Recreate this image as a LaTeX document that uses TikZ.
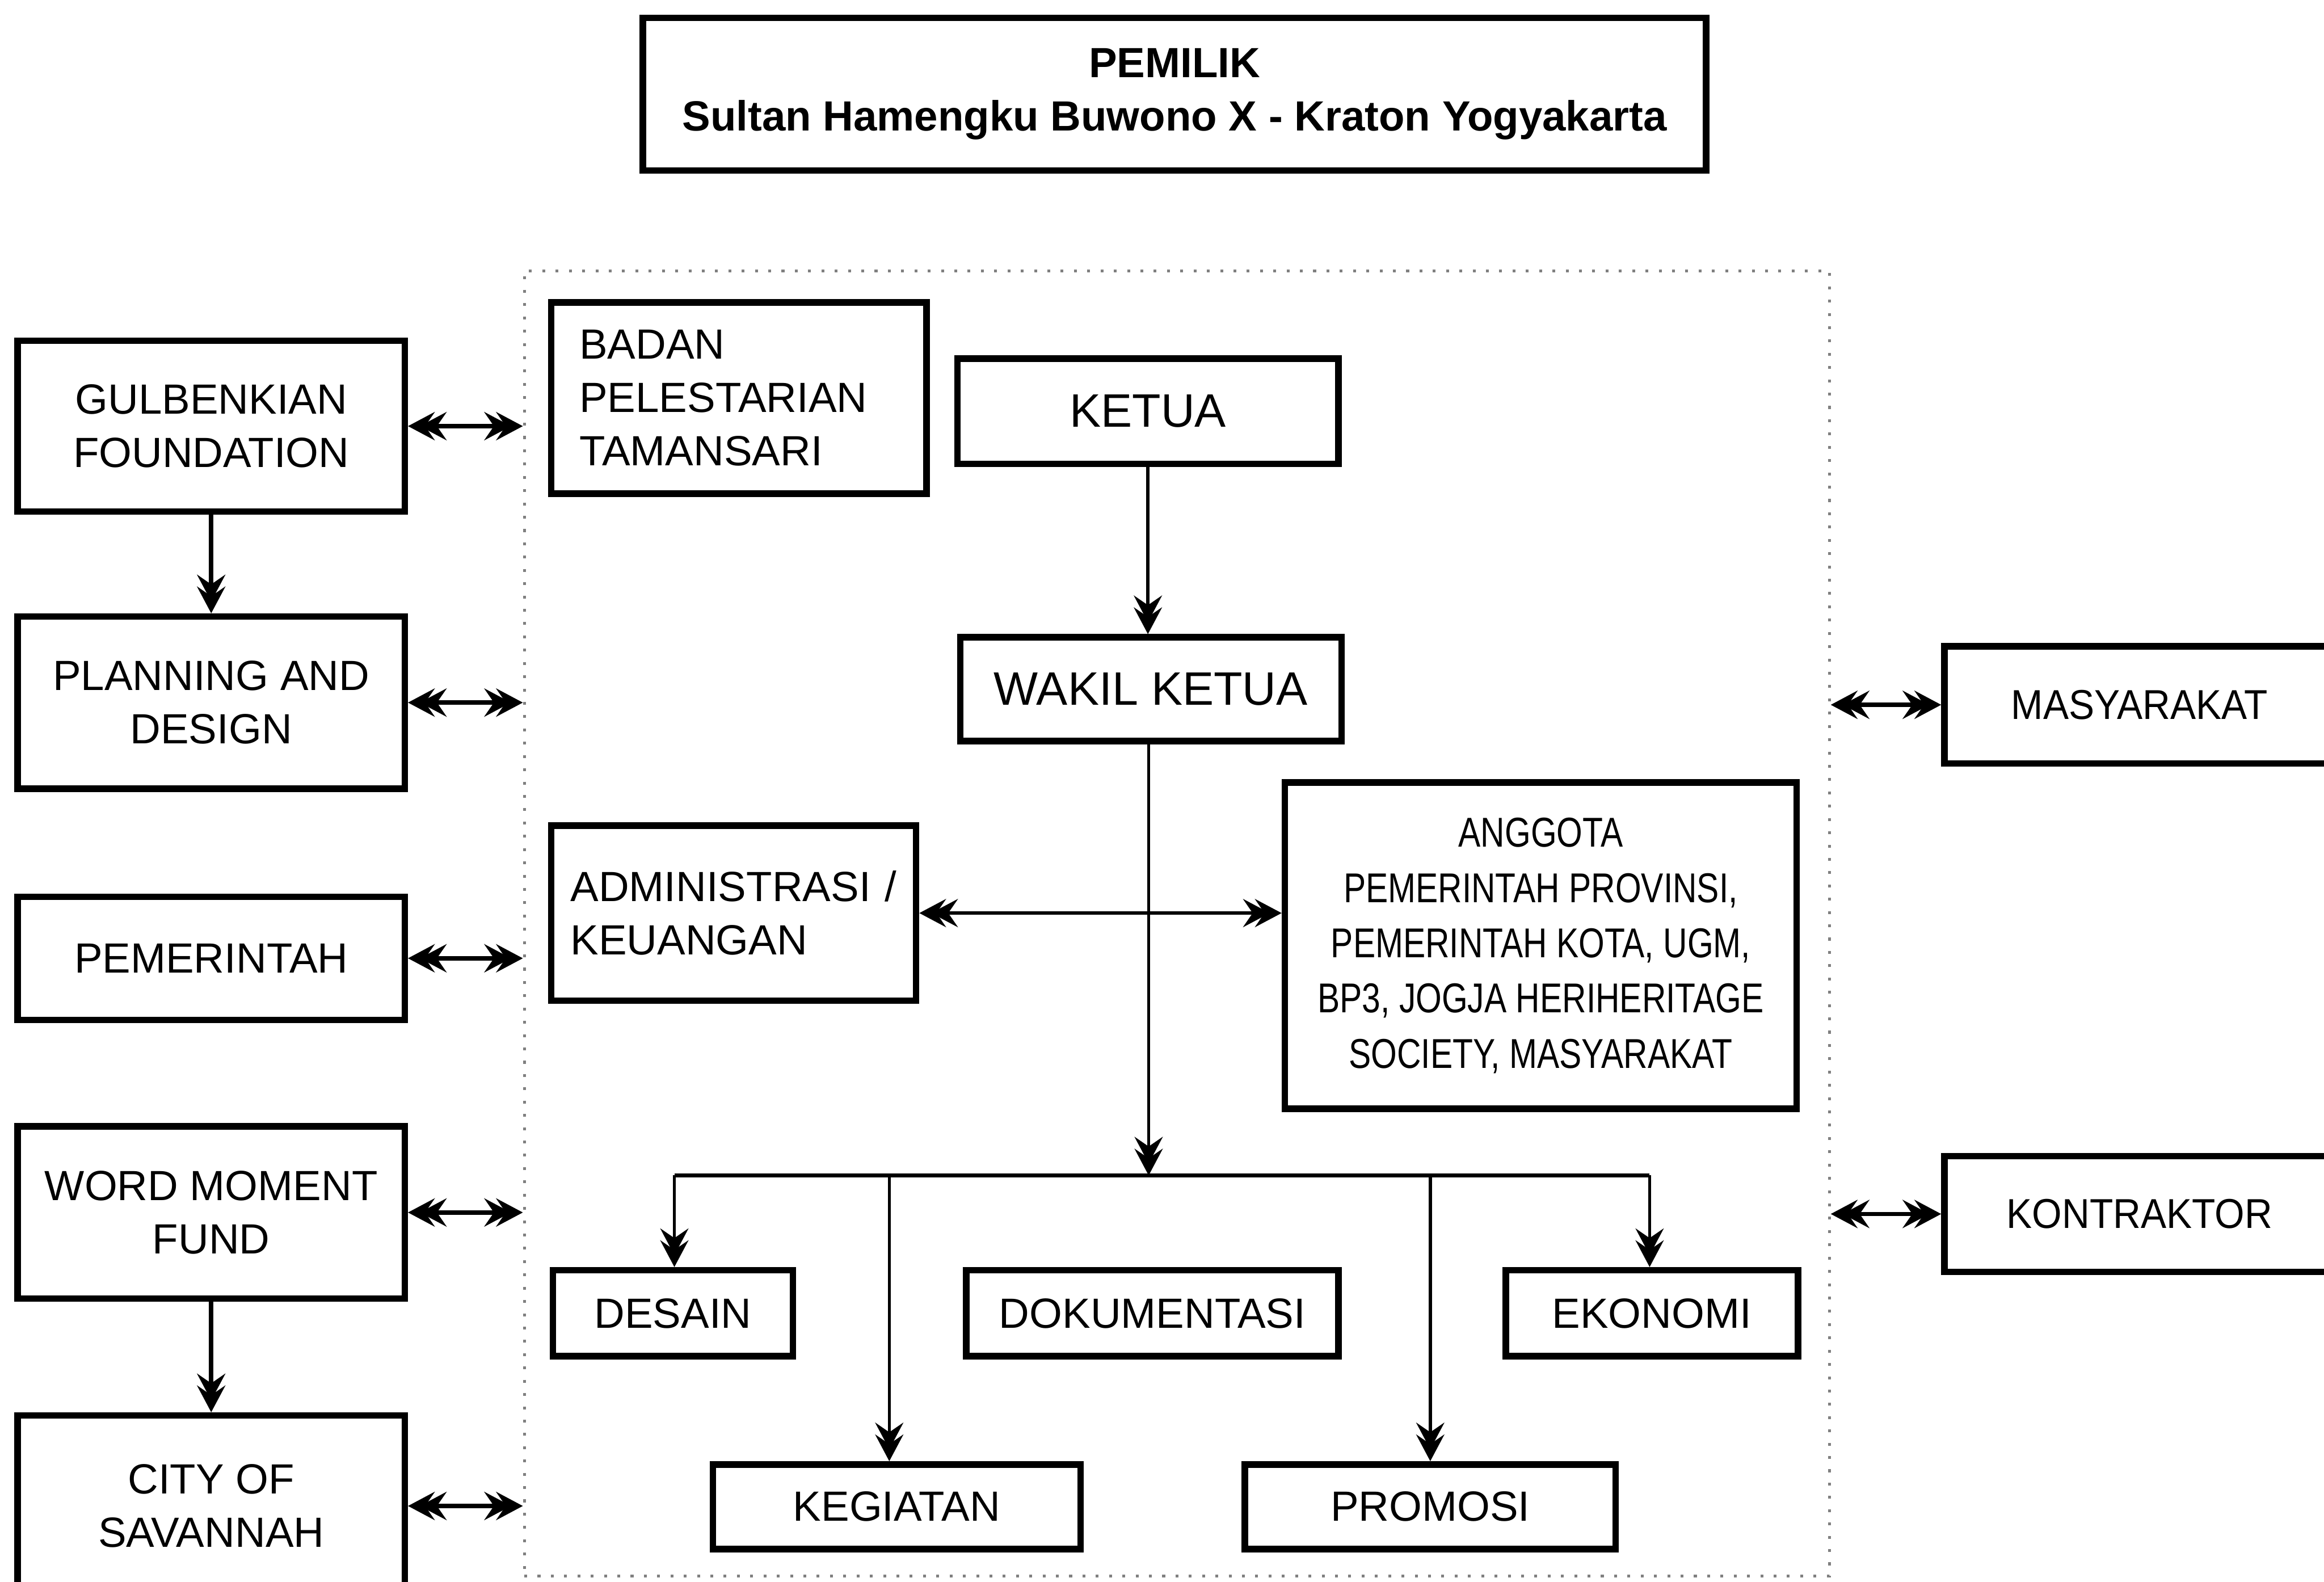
\documentclass[tikz,border=0pt]{standalone}
\usepackage{fontspec}
\setmainfont{Liberation Sans}
\newfontfamily\narrowfont[FakeStretch=0.8]{Liberation Sans}
\newfontfamily\semifont[FakeStretch=0.92]{Liberation Sans}
\usetikzlibrary{arrows.meta,calc}
\tikzset{
  dbl/.tip={Stealth[length=1.8mm,width=1.9mm,inset=0.65mm,sep=-1.0mm]Stealth[length=1.8mm,width=1.9mm,inset=0.65mm]},
  box/.style={draw, line width=1.25pt, inner sep=0pt, align=center, font=\fontsize{8.1}{10.2}\selectfont},
  bigbox/.style={box, font=\fontsize{9}{11}\selectfont},
  conn/.style={line width=0.85pt},
  thinconn/.style={line width=0.6pt},
  frame/.style={draw=black!50, dotted, line width=0.55pt, inner sep=0pt}
}
\begin{document}
\begin{tikzpicture}[x=0.01cm,y=-0.01cm]
\useasboundingbox (0,0) rectangle (1568,1067);
\fill[white] (0,0) rectangle (1568,1067);

% owner
\node[box, minimum width=7.17cm, minimum height=1.03cm, font=\bfseries\fontsize{8.1}{10.2}\selectfont] (pemilik) at (792.5,63.5)
  {PEMILIK\\Sultan Hamengku Buwono X - Kraton Yogyakarta};

% dotted frame
\node[frame, minimum width=8.80cm, minimum height=8.80cm] (frame) at (794,623) {};

% left boxes
\node[box, minimum width=2.61cm, minimum height=1.15cm] (gulb) at (142.5,287.5) {GULBENKIAN\\FOUNDATION};
\node[box, minimum width=2.61cm, minimum height=1.16cm] (plan) at (142.5,474) {PLANNING AND\\DESIGN};
\node[box, minimum width=2.61cm, minimum height=0.83cm] (pem) at (142.5,646.5) {PEMERINTAH};
\node[box, minimum width=2.61cm, minimum height=1.16cm] (word) at (142.5,818) {WORD MOMENT\\FUND};
\node[box, minimum width=2.61cm, minimum height=1.22cm] (city) at (142.5,1016) {CITY OF\\SAVANNAH};

% right boxes
\node[box, minimum width=2.63cm, minimum height=0.79cm, font=\semifont\fontsize{8}{10}\selectfont] (masy) at (1443.5,475.5) {MASYARAKAT};
\node[box, minimum width=2.63cm, minimum height=0.78cm, font=\semifont\fontsize{8}{10}\selectfont] (kon) at (1443.5,819) {KONTRAKTOR};

% inner boxes
\node[box, minimum width=2.53cm, minimum height=1.29cm, text width=2.15cm, inner xsep=0.19cm, align=left] (badan) at (498.5,268.5)
  {BADAN\\PELESTARIAN\\TAMANSARI};
\node[bigbox, minimum width=2.57cm, minimum height=0.71cm] (ketua) at (774.5,277.5) {KETUA};
\node[bigbox, minimum width=2.57cm, minimum height=0.70cm] (wakil) at (776.5,465) {WAKIL KETUA};
\node[box, minimum width=2.46cm, minimum height=1.18cm, text width=2.20cm, inner xsep=0.13cm, align=left] (admin) at (495,616)
  {ADMINISTRASI /\\KEUANGAN};
\node[box, minimum width=3.45cm, minimum height=2.20cm, font=\narrowfont\fontsize{8}{10.6}\selectfont] (anggota) at (1039.5,638)
  {ANGGOTA\\PEMERINTAH PROVINSI,\\PEMERINTAH KOTA, UGM,\\BP3, JOGJA HERIHERITAGE\\SOCIETY, MASYARAKAT};
\node[box, minimum width=1.62cm, minimum height=0.58cm] (desain) at (454,886) {DESAIN};
\node[box, minimum width=2.51cm, minimum height=0.58cm] (dok) at (777.5,886) {DOKUMENTASI};
\node[box, minimum width=1.97cm, minimum height=0.58cm] (eko) at (1114.5,886) {EKONOMI};
\node[box, minimum width=2.48cm, minimum height=0.57cm] (keg) at (605,1016.5) {KEGIATAN};
\node[box, minimum width=2.50cm, minimum height=0.57cm] (promo) at (965,1016.5) {PROMOSI};

% branch coordinates
\coordinate (br) at (775,793);
\coordinate (bdes) at (455,793);
\coordinate (bkeg) at (600,793);
\coordinate (bpro) at (965,793);
\coordinate (beko) at (1113,793);

% left connectors
\draw[conn,-{dbl}] (gulb.south) -- (plan.north);
\draw[conn,-{dbl}] (word.south) -- (city.north);
\foreach \n in {gulb,plan,pem,word,city}
  \draw[conn,{dbl}-{dbl}] (\n.east) -- (\n.east -| frame.west);

% right connectors
\draw[conn,{dbl}-{dbl}] (masy.west -| frame.east) -- (masy.west);
\draw[conn,{dbl}-{dbl}] (kon.west -| frame.east) -- (kon.west);

% hierarchy
\draw[thinconn,-{dbl}] (ketua.south) -- (ketua.south |- wakil.north);
\draw[thinconn,-{dbl}] (wakil.south -| br) -- (br);
\draw[thinconn,{dbl}-{dbl}] (admin.east) -- (admin.east -| anggota.west);
\draw[conn] (bdes) -- (beko);
\draw[thinconn,-{dbl}] (bdes) -- (bdes |- desain.north);
\draw[thinconn,-{dbl}] (bkeg) -- (bkeg |- keg.north);
\draw[thinconn,-{dbl}] (bpro) -- (bpro |- promo.north);
\draw[thinconn,-{dbl}] (beko) -- (beko |- eko.north);
\end{tikzpicture}
\end{document}
